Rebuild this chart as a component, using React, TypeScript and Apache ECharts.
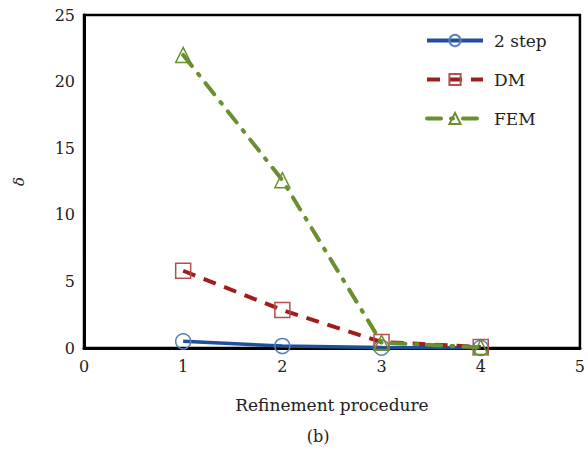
import React, { useEffect, useRef } from "react";
import * as echarts from "echarts";

const steps = [1, 2, 3, 4];
const twoStep = [0.5, 0.15, 0.03, 0.01];
const dm = [5.8, 2.85, 0.45, 0.08];
const fem = [22.0, 12.6, 0.4, 0.05];
const seriesNames = ["2 step", "DM", "FEM"];
const xTicks = [0, 5];
const yTicks = [0, 25];

const FONT = "DejaVu Serif";

export default function App() {
  const ref = useRef<HTMLDivElement>(null);
  useEffect(() => {
    if (!ref.current) return;
    const chart = echarts.init(ref.current, undefined, { renderer: "svg" });
    const pts = (ys: number[]) => steps.map((x, i) => [x, ys[i]]);
    chart.setOption({
      animation: false,
      backgroundColor: "#ffffff",
      textStyle: { fontFamily: FONT },
      grid: {
        left: 84,
        right: 8,
        top: 15,
        bottom: 102,
        show: true,
        borderColor: "#000",
        borderWidth: 2.5,
        containLabel: false,
      },
      title: {
        text: "(b)",
        left: 318,
        textAlign: "center",
        top: 428,
        padding: 0,
        textStyle: { fontFamily: FONT, fontSize: 16, fontWeight: "normal", color: "#222" },
      },
      legend: {
        orient: "vertical",
        left: 420,
        top: 27,
        padding: 5,
        itemWidth: 56,
        itemHeight: 14,
        itemGap: 22,
        lineStyle: { width: 4 },
        textStyle: { fontFamily: FONT, fontSize: 17, color: "#222", padding: [0, 0, 0, 6] },
        data: seriesNames,
      },
      xAxis: {
        type: "value",
        min: xTicks[0],
        max: xTicks[1],
        interval: 1,
        name: "Refinement procedure",
        nameLocation: "middle",
        nameGap: 48,
        nameTextStyle: { fontFamily: FONT, fontSize: 17, color: "#222" },
        axisLine: { show: true, onZero: false, lineStyle: { color: "#000", width: 3 } },
        axisTick: { show: false },
        splitLine: { show: false },
        axisLabel: { fontFamily: FONT, fontSize: 16, color: "#222", margin: 10 },
      },
      yAxis: {
        type: "value",
        min: yTicks[0],
        max: yTicks[1],
        interval: 5,
        name: "δ",
        nameLocation: "middle",
        nameGap: 58,
        nameTextStyle: { fontFamily: FONT, fontSize: 15, fontStyle: "italic", color: "#222" },
        axisLine: { show: true, lineStyle: { color: "#000", width: 3 } },
        axisTick: { show: false },
        splitLine: { show: false },
        axisLabel: { fontFamily: FONT, fontSize: 16, color: "#222", margin: 9 },
      },
      series: [
        {
          name: seriesNames[0],
          type: "line",
          data: pts(twoStep),
          symbol: "circle",
          symbolSize: 15,
          lineStyle: { color: "#1f4f98", width: 3.5, type: "solid" },
          itemStyle: { color: "rgba(255,255,255,0)", borderColor: "#5b80b8", borderWidth: 1.5 },
          z: 3,
        },
        {
          name: seriesNames[1],
          type: "line",
          data: pts(dm),
          symbol: "rect",
          symbolSize: 15,
          lineStyle: { color: "#a11c1c", width: 4, type: [13, 9] },
          itemStyle: { color: "rgba(255,255,255,0)", borderColor: "#b5504c", borderWidth: 1.5 },
          z: 4,
        },
        {
          name: seriesNames[2],
          type: "line",
          data: pts(fem),
          symbol: "triangle",
          symbolSize: 15,
          lineStyle: { color: "#6a8f2e", width: 4, type: [14, 10, 2, 10], cap: "round" },
          itemStyle: { color: "rgba(255,255,255,0)", borderColor: "#6a8f2e", borderWidth: 1.5 },
          z: 5,
        },
      ],
    });
    return () => chart.dispose();
  }, []);
  return (
    <div
      ref={ref}
      style={{ position: "fixed", left: 0, top: 0, width: 588, height: 450 }}
    />
  );
}
